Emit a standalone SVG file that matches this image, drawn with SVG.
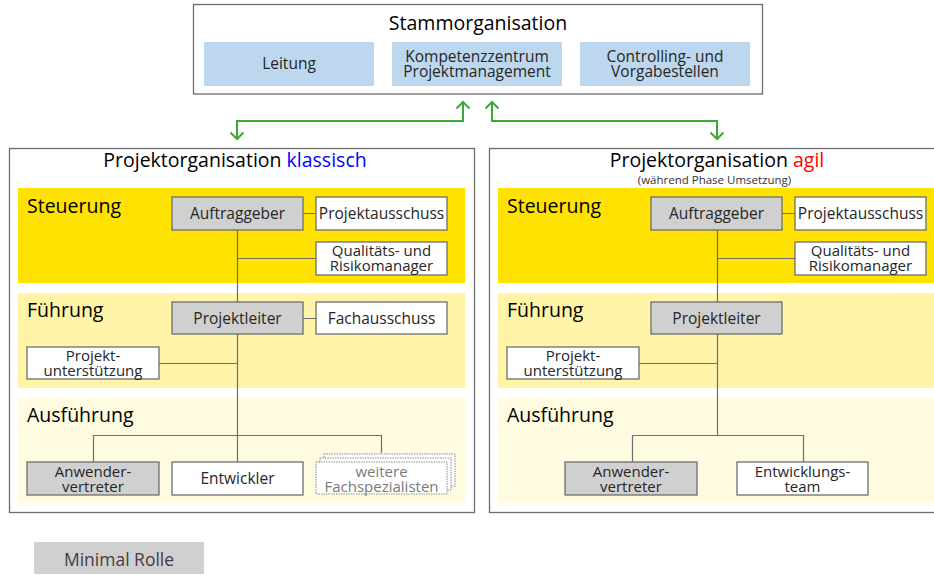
<svg xmlns="http://www.w3.org/2000/svg" width="934" height="575" viewBox="0 0 934 575">
<defs>
<marker id="chev" markerUnits="userSpaceOnUse" markerWidth="16" markerHeight="16" refX="8" refY="8" orient="auto-start-reverse" viewBox="0 0 16 16">
<path d="M1.5,1.5 L8,8 L1.5,14.5" fill="none" stroke="#3AAA35" stroke-width="2"/>
</marker>
</defs>
<style>
text{font-family:"Open Sans","Noto Sans",sans-serif;}
.panel{fill:#fff;stroke:#6e6e6e;stroke-width:1.3;}
.b1{fill:#FFE200;}
.b2{fill:#FFF4A8;}
.b3{fill:#FFFBE0;}
.blue{fill:#BDD7EE;}
.g{fill:#D0D0D0;stroke:#6e6e6e;stroke-width:1.3;}
.w{fill:#fff;stroke:#6e6e6e;stroke-width:1.3;}
.d{fill:#fff;stroke:#8a8a8a;stroke-width:1;stroke-dasharray:1.5 1;}
.t{font-size:15.5px;fill:#262626;text-anchor:middle;}
.t2{font-size:15px;fill:#262626;text-anchor:middle;}
.tg{font-size:15px;fill:#7a7a7a;text-anchor:middle;}
.lbl{font-size:19.5px;fill:#000;}
.ttl{font-size:19.5px;fill:#000;text-anchor:middle;}
.con{fill:none;stroke:#6e6e6e;stroke-width:1.2;}
.grn{fill:none;stroke:#3AAA35;stroke-width:2;marker-start:url(#chev);marker-end:url(#chev);}
</style>

<g id="stammorganisation">
<rect x="193.5" y="4.5" width="569" height="89.5" class="panel"/>
<text x="478" y="30" class="ttl" font-size="20">Stammorganisation</text>
</g>
<g id="leitung">
<rect x="204" y="42" width="170" height="44" class="blue"/>
<text x="289" y="69" class="t" font-size="16">Leitung</text>
</g>
<g id="kompetenzzentrum">
<rect x="392" y="42" width="170" height="44" class="blue"/>
<text x="477" y="61.5" class="t">Kompetenzzentrum</text>
<text x="477" y="77" class="t">Projektmanagement</text>
</g>
<g id="controlling">
<rect x="580" y="42" width="170" height="44" class="blue"/>
<text x="665" y="61.5" class="t">Controlling- und</text>
<text x="665" y="77" class="t">Vorgabestellen</text>
</g>

<g id="panel-klassisch">
<rect x="9.5" y="148.5" width="465" height="364" class="panel"/>
<rect x="18" y="188" width="447" height="95" class="b1"/>
<rect x="18" y="293" width="447" height="95" class="b2"/>
<rect x="18" y="397" width="447" height="106" class="b3"/>
<text x="235" y="167" class="ttl">Projektorganisation <tspan fill="#0000FF">klassisch</tspan></text>
<text x="27" y="213" class="lbl">Steuerung</text>
<text x="27" y="317" class="lbl">Führung</text>
<text x="27" y="422" class="lbl">Ausführung</text>
</g>

<g id="panel-agil">
<rect x="489.5" y="148.5" width="470" height="364" class="panel"/>
<rect x="498" y="188" width="447" height="95" class="b1"/>
<rect x="498" y="293" width="447" height="95" class="b2"/>
<rect x="498" y="397" width="447" height="106" class="b3"/>
<text x="717" y="167" class="ttl">Projektorganisation <tspan fill="#FF0000">agil</tspan></text>
<text x="714.5" y="183.5" font-size="11.5" fill="#333" text-anchor="middle">(während Phase Umsetzung)</text>
<text x="507" y="213" class="lbl">Steuerung</text>
<text x="507" y="317" class="lbl">Führung</text>
<text x="507" y="422" class="lbl">Ausführung</text>
</g>

<g id="connectors">
<path class="con" d="M303,213.5 H316 M237.5,230 V462 M237.5,258.5 H316 M303,318.5 H316 M159,363.5 H237.5 M93.5,462 V435.5 H381.5 V453"/>
<path class="con" d="M782,213.5 H795 M717.5,230 V435.5 M717.5,258.5 H795 M639,363.5 H717.5 M632.5,462 V435.5 H803.5 V462"/>
<path class="grn" d="M237,139 V121 H463 V102"/>
<path class="grn" d="M492,102 V121 H717 V139"/>
</g>

<g id="k-auftraggeber">
<rect x="172" y="197" width="131" height="33" class="g"/>
<text x="237.5" y="219" class="t">Auftraggeber</text>
</g>
<g id="k-projektausschuss">
<rect x="316" y="197" width="131" height="33" class="w"/>
<text x="381.5" y="219" class="t">Projektausschuss</text>
</g>
<g id="k-qualitaet">
<rect x="316" y="242" width="131" height="33" class="w"/>
<text x="381.5" y="256" class="t2">Qualitäts- und</text>
<text x="381.5" y="271" class="t2">Risikomanager</text>
</g>
<g id="k-projektleiter">
<rect x="172" y="302" width="131" height="32" class="g"/>
<text x="237.5" y="323.5" class="t">Projektleiter</text>
</g>
<g id="k-fachausschuss">
<rect x="316" y="302" width="131" height="32" class="w"/>
<text x="381.5" y="323.5" class="t">Fachausschuss</text>
</g>
<g id="k-projektunterstuetzung">
<rect x="27" y="347" width="132" height="32" class="w"/>
<text x="93" y="360.5" class="t2">Projekt-</text>
<text x="93" y="375.5" class="t2">unterstützung</text>
</g>
<g id="k-anwender">
<rect x="27" y="462" width="132" height="33" class="g"/>
<text x="93" y="476.5" class="t2">Anwender-</text>
<text x="93" y="491.5" class="t2">vertreter</text>
</g>
<g id="k-entwickler">
<rect x="172" y="462" width="131" height="33" class="w"/>
<text x="237.5" y="484" class="t">Entwickler</text>
</g>
<g id="k-weitere">
<rect x="324" y="454" width="131" height="32" class="d"/>
<rect x="320" y="458" width="131" height="32" class="d"/>
<rect x="316" y="462" width="131" height="32" class="d"/>
<text x="381.5" y="476.5" class="tg">weitere</text>
<text x="381.5" y="491.5" class="tg">Fachspezialisten</text>
</g>

<g id="a-auftraggeber">
<rect x="651" y="197" width="131" height="33" class="g"/>
<text x="716.5" y="219" class="t">Auftraggeber</text>
</g>
<g id="a-projektausschuss">
<rect x="795" y="197" width="131" height="33" class="w"/>
<text x="860.5" y="219" class="t">Projektausschuss</text>
</g>
<g id="a-qualitaet">
<rect x="795" y="242" width="131" height="33" class="w"/>
<text x="860.5" y="256" class="t2">Qualitäts- und</text>
<text x="860.5" y="271" class="t2">Risikomanager</text>
</g>
<g id="a-projektleiter">
<rect x="651" y="302" width="131" height="32" class="g"/>
<text x="716.5" y="323.5" class="t">Projektleiter</text>
</g>
<g id="a-projektunterstuetzung">
<rect x="507" y="347" width="132" height="32" class="w"/>
<text x="573" y="360.5" class="t2">Projekt-</text>
<text x="573" y="375.5" class="t2">unterstützung</text>
</g>
<g id="a-anwender">
<rect x="565" y="462" width="132" height="33" class="g"/>
<text x="631" y="476.5" class="t2">Anwender-</text>
<text x="631" y="491.5" class="t2">vertreter</text>
</g>
<g id="a-entwicklungsteam">
<rect x="737" y="462" width="131" height="33" class="w"/>
<text x="802.5" y="476.5" class="t2">Entwicklungs-</text>
<text x="802.5" y="491.5" class="t2">team</text>
</g>

<g id="legende">
<rect x="34" y="542" width="170" height="32" fill="#D0D0D0"/>
<text x="119" y="566" font-size="17.5" fill="#404040" text-anchor="middle">Minimal Rolle</text>
</g>
</svg>
